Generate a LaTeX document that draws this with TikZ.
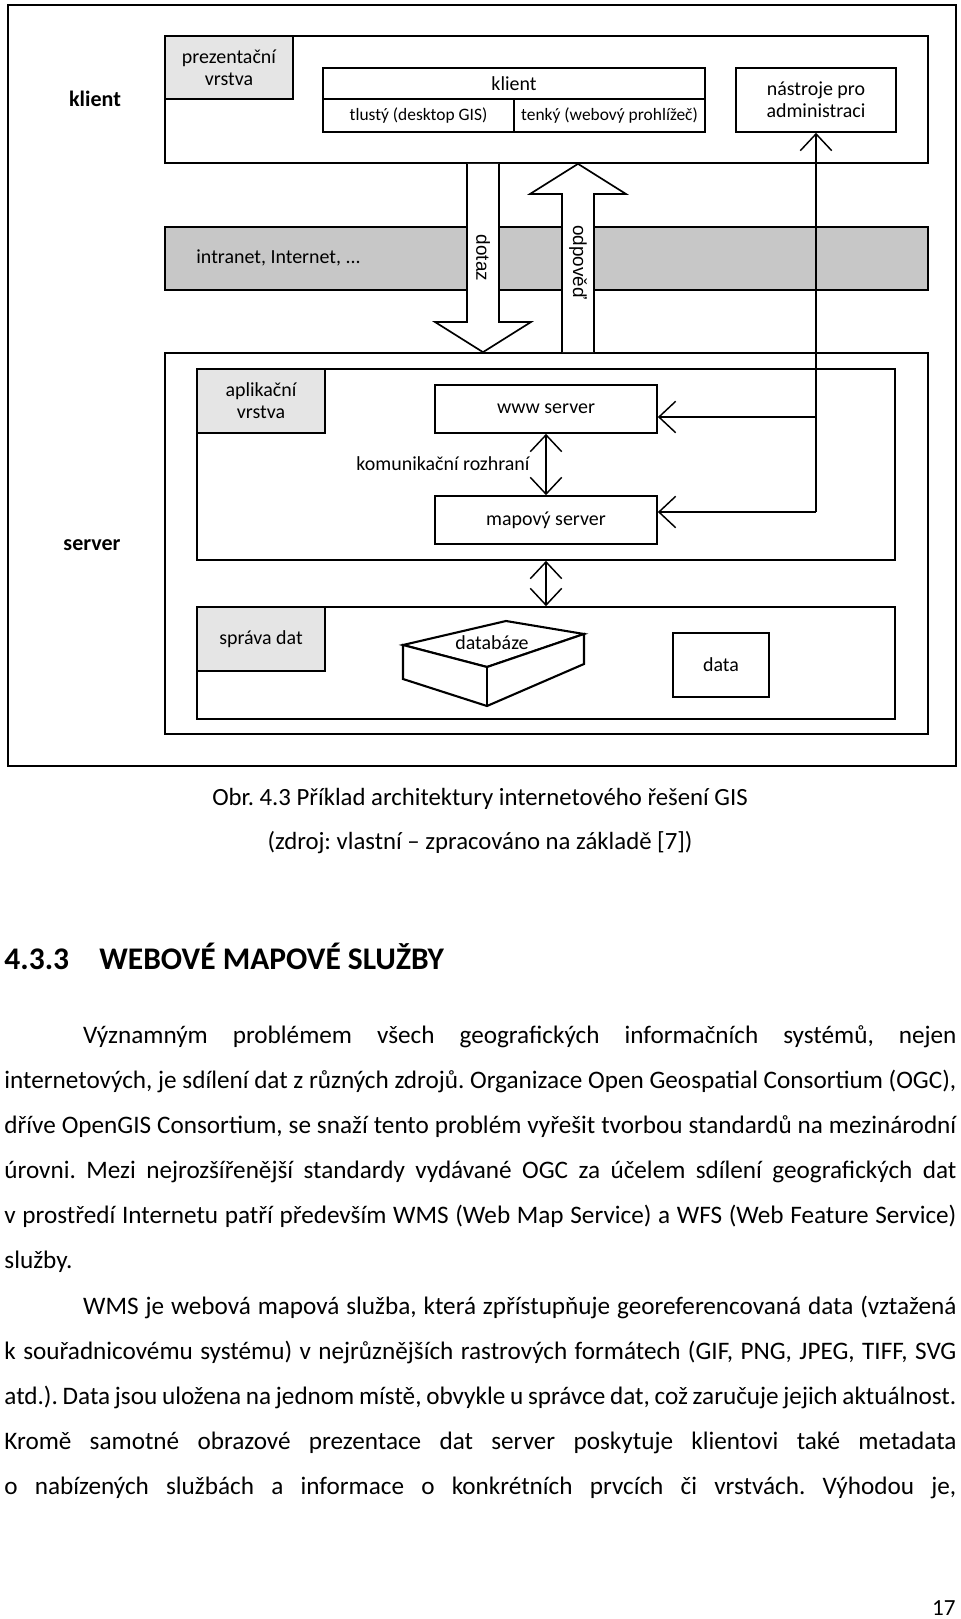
\documentclass[tikz,border=0pt]{standalone}
\usepackage{fontspec}
\setmainfont{Carlito}
\newfontfamily\arialfont{Liberation Sans}
\usetikzlibrary{arrows.meta,calc}
\frenchspacing

\newcommand{\pxl}{0.4764pt}

\tikzset{
  box/.style={draw,line width=0.8pt,fill=white,inner sep=0pt,align=center,
    font=\fontsize{9.5}{10.6}\selectfont},
  layer/.style={box,fill=black!10},
  cell/.style={box,font=\fontsize{8.3}{10}\selectfont},
  barb/.style={line width=0.7pt,-{Straight Barb[length=8pt,width=15pt]}},
  dbarb/.style={line width=0.7pt,{Straight Barb[length=8pt,width=15pt]}-{Straight Barb[length=8pt,width=15pt]}},
  bigarrow/.style={draw,line width=0.8pt,fill=white},
  side/.style={font=\bfseries\fontsize{10.5}{12}\selectfont},
  label/.style={font=\fontsize{9.5}{10.6}\selectfont},
  vlabel/.style={rotate=-90,font=\arialfont\fontsize{9}{10}\selectfont},
  txt/.style={inner sep=0pt,font=\fontsize{12}{14}\selectfont},
  heading/.style={inner sep=0pt,anchor=base west,font=\bfseries\fontsize{15}{18}\selectfont},
  para/.style={text width=453.5pt,align=justify,inner sep=0pt,anchor=base west,
    font={\fontsize{12}{21.53}\selectfont\hyphenpenalty=10000 \tolerance=10000 }},
}

\begin{document}
\begin{tikzpicture}[x=\pxl,y=-\pxl]
\useasboundingbox (0,0) rectangle (960,1619);

% ramecek obrazku
\node[box,line width=1pt,minimum width=948*\pxl,minimum height=761*\pxl] (ramec) at (482,385.5) {};

% klient
\node[box,minimum width=763*\pxl,minimum height=127*\pxl] (klientbox) at (546.5,99.5) {};
\node[layer,minimum width=128*\pxl,minimum height=63*\pxl] (prez) at (229,67.5) {prezentační\\vrstva};
\node[box,minimum width=382*\pxl,minimum height=31*\pxl] (klient) at (514,83.5) {klient};
\node[cell,minimum width=191*\pxl,minimum height=33*\pxl] (tlusty) at (418.5,115.5) {tlustý (desktop GIS)};
\node[cell,minimum width=191*\pxl,minimum height=33*\pxl] (tenky) at (609.5,115.5) {tenký (webový prohlížeč)};
\node[box,minimum width=160*\pxl,minimum height=64*\pxl] (nastroje) at (816,100) {nástroje pro\\administraci};
\node[side] (klientlbl) at (95,99) {klient};

% sit
\node[box,fill=black!22,minimum width=763*\pxl,minimum height=63*\pxl] (sit) at (546.5,258.5) {};
\node[label,anchor=west,inner sep=0pt] (sittext) at (196,258) {intranet, Internet, ...};

% server
\node[box,minimum width=763*\pxl,minimum height=381*\pxl] (serverbox) at (546.5,543.5) {};
\node[box,minimum width=698*\pxl,minimum height=191*\pxl] (aplbox) at (546,464.5) {};
\node[layer,minimum width=128*\pxl,minimum height=64*\pxl] (apl) at (261,401) {aplikační\\vrstva};
\node[box,minimum width=222*\pxl,minimum height=48*\pxl] (www) at (546,409) {www server};
\node[box,minimum width=222*\pxl,minimum height=48*\pxl] (mapovy) at (546,520) {mapový server};
\node[label] (rozhrani) at (443,464) {komunikační rozhraní};
\node[box,minimum width=698*\pxl,minimum height=112*\pxl] (databox) at (546,663) {};
\node[layer,minimum width=128*\pxl,minimum height=64*\pxl] (sprava) at (261,639) {správa dat};
\node[box,minimum width=96*\pxl,minimum height=64*\pxl] (data) at (721,665) {data};
\node[side] (serverlbl) at (92,545) {server};

% databaze
\draw[line width=1pt,fill=white] (403,645) -- (506,621) -- (584,634) -- (487,667) -- cycle;
\draw[line width=1pt,fill=white] (403,645) -- (487,667) -- (584,634) -- (584,664) -- (487,706) -- (403,679) -- cycle;
\draw[line width=1pt] (487,667) -- (487,706);
\node[label] (databaze) at (492,643) {databáze};

% dotaz a odpoved
\draw[bigarrow] (467,0 |- klientbox.south) -- (467,322) -- (435,322) -- (483,0 |- serverbox.north)
  -- (531,322) -- (499,322) -- (499,0 |- klientbox.south);
\draw[bigarrow] (562,0 |- serverbox.north) -- (562,194) -- (530,194) -- (578,0 |- klientbox.south)
  -- (626,194) -- (594,194) -- (594,0 |- serverbox.north);
\node[vlabel] (dotaz) at (483,258) {dotaz};
\node[vlabel] (odpoved) at (578,262) {odpověď};

% administrace
\coordinate (admin) at (816,512);
\coordinate (adminwww) at (816,417);
\draw[barb] (admin) -- (nastroje.south);
\draw[barb] (admin) -- (admin -| mapovy.east);
\draw[barb] (adminwww) -- (adminwww -| www.east);

\draw[dbarb] (www.south) -- (mapovy.north);
\draw[dbarb] (aplbox.south) -- (databox.north);

% popisek
\node[txt,anchor=base,font=\fontsize{11.8}{14}\selectfont] (obr) at (480,805) {Obr. 4.3 Příklad architektury internetového řešení GIS};
\node[txt,anchor=base,font=\fontsize{11.8}{14}\selectfont] (zdroj) at (480,849) {(zdroj: vlastní – zpracováno na základě [7])};

% kapitola
\node[heading] (cislo) at (4,969) {4.3.3};
\node[heading] (nadpis) at (99,969) {WEBOVÉ MAPOVÉ SLUŽBY};

\node[para] (odst1) at (4,1043) {\hspace*{37.5pt}Významným problémem všech geografických informačních systémů, nejen\linebreak
internetových, je sdílení dat z různých zdrojů. Organizace Open Geospatial Consortium (OGC),\linebreak
dříve OpenGIS Consortium, se snaží tento problém vyřešit tvorbou standardů na mezinárodní\linebreak
úrovni. Mezi nejrozšířenější standardy vydávané OGC za účelem sdílení geografických dat\linebreak
v prostředí Internetu patří především WMS (Web Map Service) a WFS (Web Feature Service)\linebreak
služby.};

\node[para] (odst2) at (4,1314.2) {\hspace*{37.5pt}WMS je webová mapová služba, která zpřístupňuje georeferencovaná data (vztažená\linebreak
k souřadnicovému systému) v nejrůznějších rastrových formátech (GIF, PNG, JPEG, TIFF, SVG\linebreak
atd.). Data jsou uložena na jednom místě, obvykle u správce dat, což zaručuje jejich aktuálnost.\linebreak
Kromě samotné obrazové prezentace dat server poskytuje klientovi také metadata\linebreak
o nabízených službách a informace o konkrétních prvcích či vrstvách. Výhodou je,\parfillskip=0pt\par};

\node[txt,anchor=base east,font=\fontsize{11}{13}\selectfont] (strana) at (956,1615) {17};

\end{tikzpicture}
\end{document}
